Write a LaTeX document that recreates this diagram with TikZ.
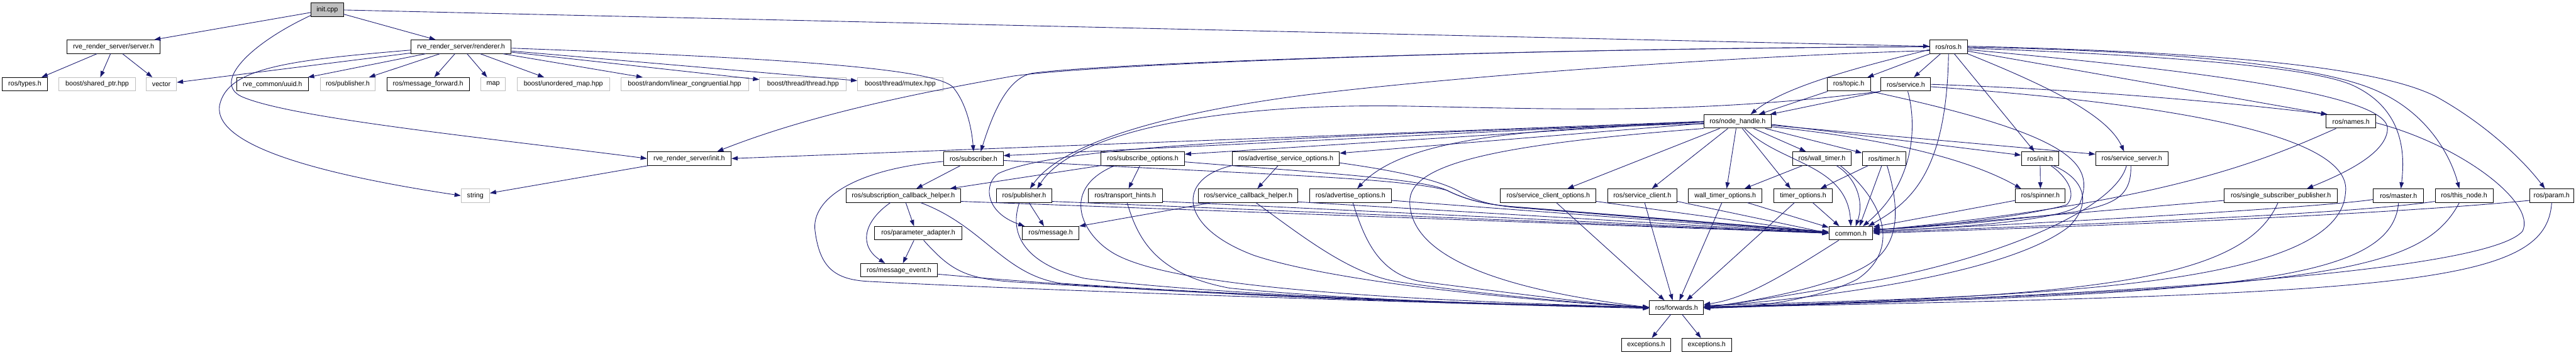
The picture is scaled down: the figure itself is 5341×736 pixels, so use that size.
\documentclass[tikz,border=0pt]{standalone}
\usepackage{fontspec}
\setmainfont{Liberation Sans}
\usetikzlibrary{arrows.meta}
\definecolor{edgec}{HTML}{191970}
\definecolor{grayc}{HTML}{BFBFBF}
\tikzset{
  nb/.style={draw=black, fill=white, line width=1.3pt, minimum height=28pt, inner sep=0pt, font=\fontsize{14}{16}\selectfont},
  ng/.style={nb, draw=grayc},
  e/.style={draw=edgec, line width=1.15pt, -{Triangle[length=13pt,width=9pt]}}
}
\begin{document}
\begin{tikzpicture}[x=1pt,y=-1pt]
\useasboundingbox (0,0) rectangle (5341,736);
% row 0
\node[nb, fill=grayc, minimum width=67pt] (init) at (678.5,20) {init.cpp};
% row 1
\node[nb, minimum width=193pt] (server) at (235.5,97) {rve\_render\_server/server.h};
\node[nb, minimum width=208pt] (renderer) at (956,97) {rve\_render\_server/renderer.h};
\node[nb, minimum width=78pt] (rosh) at (4040,97) {ros/ros.h};
% row 2
\node[nb, minimum width=93pt] (types) at (51.5,175) {ros/types.h};
\node[ng, minimum width=159pt] (sharedptr) at (201.5,175) {boost/shared\_ptr.hpp};
\node[ng, minimum width=63pt] (vector) at (334.5,175) {vector};
\node[nb, minimum width=148pt] (uuid) at (565,175) {rve\_common/uuid.h};
\node[ng, minimum width=114pt] (pubgray) at (721,175) {ros/publisher.h};
\node[nb, minimum width=171pt] (msgfwd) at (887.5,175) {ros/message\_forward.h};
\node[ng, minimum width=51pt] (map) at (1022.5,175) {map};
\node[ng, minimum width=192pt] (umap) at (1168,175) {boost/unordered\_map.hpp};
\node[ng, minimum width=265pt] (lcg) at (1419.5,175) {boost/random/linear\_congruential.hpp};
\node[ng, minimum width=180pt] (thread) at (1665,175) {boost/thread/thread.hpp};
\node[ng, minimum width=177pt] (mutex) at (1866.5,175) {boost/thread/mutex.hpp};
\node[nb, minimum width=90pt] (topic) at (3833,175) {ros/topic.h};
\node[nb, minimum width=103pt] (service) at (3951.5,175) {ros/service.h};
% row 3
\node[nb, minimum width=139pt] (nh) at (3602.5,252) {ros/node\_handle.h};
\node[nb, minimum width=103pt] (names) at (4874.5,252) {ros/names.h};
% row 4
\node[nb, minimum width=174pt] (rinit) at (1429,329) {rve\_render\_server/init.h};
\node[nb, minimum width=123pt] (sub) at (2018.5,329) {ros/subscriber.h};
\node[nb, minimum width=173pt] (subopt) at (2369.5,329) {ros/subscribe\_options.h};
\node[nb, minimum width=222pt] (advsrvopt) at (2666,329) {ros/advertise\_service\_options.h};
\node[nb, minimum width=121pt] (wtimer) at (3777.5,329) {ros/wall\_timer.h};
\node[nb, minimum width=91pt] (timer) at (3906.5,329) {ros/timer.h};
\node[nb, minimum width=78pt] (rosinit) at (4230,329) {ros/init.h};
\node[nb, minimum width=150pt] (srvsrv) at (4420,329) {ros/service\_server.h};
% row 5
\node[ng, minimum width=59pt] (string) at (985.5,406) {string};
\node[nb, minimum width=238pt] (sch) at (1873,406) {ros/subscription\_callback\_helper.h};
\node[nb, minimum width=115pt] (pub) at (2123.5,406) {ros/publisher.h};
\node[nb, minimum width=154pt] (th) at (2333,406) {ros/transport\_hints.h};
\node[nb, minimum width=206pt] (srvcb) at (2588,406) {ros/service\_callback\_helper.h};
\node[nb, minimum width=170pt] (advopt) at (2800,406) {ros/advertise\_options.h};
\node[nb, minimum width=198pt] (sco) at (3210,406) {ros/service\_client\_options.h};
\node[nb, minimum width=144pt] (sc) at (3405,406) {ros/service\_client.h};
\node[nb, minimum width=152pt] (wto) at (3577,406) {wall\_timer\_options.h};
\node[nb, minimum width=121pt] (to) at (3738.5,406) {timer\_options.h};
\node[nb, minimum width=103pt] (spinner) at (4230.5,406) {ros/spinner.h};
\node[nb, minimum width=234pt] (ssp) at (4729,406) {ros/single\_subscriber\_publisher.h};
\node[nb, minimum width=104pt] (master) at (4973,406) {ros/master.h};
\node[nb, minimum width=120pt] (thisnode) at (5109,406) {ros/this\_node.h};
\node[nb, minimum width=91pt] (param) at (5290.5,406) {ros/param.h};
% row 6
\node[nb, minimum width=182pt] (padapt) at (1904,484) {ros/parameter\_adapter.h};
\node[nb, minimum width=117pt] (msg) at (2178.5,484) {ros/message.h};
\node[nb, minimum width=91pt] (common) at (3837.5,484) {common.h};
% row 7
\node[nb, minimum width=160pt] (mevent) at (1864,561) {ros/message\_event.h};
% row 8
\node[nb, minimum width=112pt] (fwd) at (3476,638) {ros/forwards.h};
% row 9
\node[nb, minimum width=102pt] (exc1) at (3413,716) {exceptions.h};
\node[nb, minimum width=103pt] (exc2) at (3538.5,716) {exceptions.h};

% ---- edges: init.cpp
\draw[e] (init) -- (server);
\draw[e] (init) -- (renderer);
\draw[e] (init) -- (rosh);
\draw[e] ([yshift=-12pt]init.west) .. controls (520,90) and (440,170) .. (500,200) .. controls (600,245) and (1000,285) .. (rinit.west);
% server
\draw[e] (server) -- (types);
\draw[e] (server) -- (sharedptr);
\draw[e] (server) -- (vector);
% renderer
\draw[e] (renderer) -- (vector);
\draw[e] (renderer) -- (uuid);
\draw[e] (renderer) -- (pubgray);
\draw[e] (renderer) -- (msgfwd);
\draw[e] (renderer) -- (map);
\draw[e] (renderer) -- (umap);
\draw[e] (renderer) -- (lcg);
\draw[e] (renderer) -- (thread);
\draw[e] (renderer) -- (mutex);
\draw[e] ([yshift=-3pt]renderer.east) .. controls (1600,120) and (1930,140) .. (1975,180) .. controls (2005,215) and (2015,270) .. (sub.north);
\draw[e] ([yshift=-7pt]renderer.west) .. controls (600,125) and (470,140) .. (455,220) .. controls (445,300) and (650,360) .. (string.west);
% rve init
\draw[e] (rinit) -- (string);
% ros.h
\draw[e] (rosh.west) .. controls (3200,100) and (2300,130) .. (2100,158) .. controls (1950,185) and (1700,230) .. ([xshift=58pt]rinit.north);
\draw[e] (rosh.west) .. controls (3200,100) and (2300,130) .. (2140,152) .. controls (2090,162) and (2060,230) .. ([xshift=15pt]sub.north);
\draw[e] ([yshift=-8pt]rosh.west) .. controls (3500,120) and (2900,170) .. (2670,202) .. controls (2400,240) and (2200,300) .. ([xshift=12pt]pub.north);
\draw[e] ([yshift=-6pt]rosh.west) .. controls (3850,140) and (3700,180) .. ([xshift=27pt]nh.north);
\draw[e] (rosh) -- (topic);
\draw[e] (rosh) -- (service);
\draw[e] (rosh.south) .. controls (4036,360) and (3960,420) .. ([xshift=-10pt]common.north east);
\draw[e] (rosh) -- (rosinit);
\draw[e] (rosh.south east) .. controls (4250,180) and (4370,240) .. ([xshift=-16pt]srvsrv.north);
\draw[e] ([yshift=-9pt]rosh.east) -- ([xshift=3pt]names.north west);
\draw[e] ([yshift=-6pt]rosh.east) .. controls (4600,150) and (4960,200) .. (4950,270) .. controls (4945,320) and (4860,360) .. ([xshift=54pt]ssp.north);
\draw[e] ([yshift=-3pt]rosh.east) .. controls (4500,115) and (4800,140) .. (4880,178) .. controls (4990,230) and (4985,330) .. ([xshift=5pt]master.north);
\draw[e] ([yshift=-1pt]rosh.east) .. controls (4500,105) and (4800,135) .. (4920,185) .. controls (5030,230) and (5080,320) .. ([xshift=-10pt]thisnode.north);
\draw[e] ([yshift=1pt]rosh.east) .. controls (4700,110) and (4950,150) .. (5050,200) .. controls (5150,255) and (5230,330) .. ([xshift=-14pt]param.north);
% topic, service
\draw[e] ([xshift=2pt]topic.south west) -- ([xshift=44pt]nh.north);
\draw[e] (service.south west) -- ([xshift=-3pt]nh.north east);
\draw[e] (service.south west) .. controls (3500,240) and (3200,225) .. (2900,220) .. controls (2500,215) and (2220,280) .. ([xshift=27pt]pub.north);
\draw[e] ([xshift=4pt]service.south) .. controls (3975,260) and (3970,380) .. ([xshift=25pt]common.north);
\draw[e] (service.east) .. controls (4300,185) and (4600,210) .. ([xshift=3pt]names.north west);
\draw[e] ([yshift=-5pt]service.east) .. controls (4500,215) and (4880,280) .. (4863,400) .. controls (4850,600) and (4200,615) .. ([yshift=4pt]fwd.east);
\draw[e] (topic.south east) .. controls (4300,280) and (4345,340) .. (4312,423) .. controls (4290,460) and (4000,475) .. ([yshift=4pt]common.east);
% node_handle
\draw[e] (nh.west) -- (rinit.east);
\draw[e] (nh.west) -- ([yshift=6pt]sub.east);
\draw[e] (nh.west) -- ([yshift=9pt]subopt.east);
\draw[e] ([yshift=-4pt]nh.west) -- ([yshift=11pt]advsrvopt.east);
\draw[e] ([yshift=-2pt]nh.west) .. controls (2700,285) and (2200,300) .. (2070,360) .. controls (2040,380) and (2040,440) .. ([xshift=5pt]msg.north west);
\draw[e] ([yshift=-5pt]nh.west) .. controls (3100,265) and (2900,300) .. ([xshift=14pt]advopt.north);
\draw[e] (nh.south west) .. controls (3100,300) and (2920,340) .. (2923,420) .. controls (2925,530) and (3100,600) .. (fwd.west);
\draw[e] ([xshift=-37pt]nh.south) -- ([xshift=40pt]sco.north);
\draw[e] ([xshift=-20pt]nh.south) -- ([xshift=20pt]sc.north);
\draw[e] ([xshift=-3pt]nh.south) -- ([xshift=3pt]wto.north);
\draw[e] ([xshift=10pt]nh.south) -- ([xshift=-26pt]to.north);
\draw[e] ([xshift=15pt]nh.south) .. controls (3690,340) and (3830,340) .. (common.north);
\draw[e] (nh) -- (wtimer);
\draw[e] (nh) -- (timer);
\draw[e] ([yshift=-6pt]nh.east) -- ([yshift=7pt]rosinit.west);
\draw[e] ([yshift=-8pt]nh.east) -- ([yshift=9pt]srvsrv.west);
\draw[e] ([yshift=-11pt]nh.east) .. controls (3950,292) and (4100,340) .. ([xshift=-40pt]spinner.north);
% wall_timer, timer
\draw[e] ([xshift=-40pt]wtimer.south) -- ([xshift=40pt]wto.north);
\draw[e] ([xshift=30pt]wtimer.south) .. controls (3850,370) and (3865,420) .. ([xshift=10pt]common.north);
\draw[e] ([xshift=38pt]wtimer.south) .. controls (3910,420) and (3940,520) .. (3850,580) .. controls (3750,630) and (3600,640) .. (fwd.east);
\draw[e] ([xshift=-33pt]timer.south) -- ([xshift=36pt]to.north);
\draw[e] ([xshift=-5pt]timer.south) -- ([xshift=18pt]common.north);
\draw[e] ([xshift=6pt]timer.south) .. controls (3935,420) and (3945,500) .. (3880,545) .. controls (3800,600) and (3600,630) .. (fwd.east);
% ros/init.h
\draw[e] (rosinit.south) -- (spinner.north);
\draw[e] ([xshift=22pt]rosinit.south) .. controls (4290,370) and (4305,405) .. (4285,425) .. controls (4200,450) and (3950,478) .. ([yshift=10pt]common.east);
\draw[e] ([xshift=27pt]rosinit.south) .. controls (4320,370) and (4340,420) .. (4290,470) .. controls (4150,580) and (3700,625) .. ([yshift=2pt]fwd.east);
% service_server
\draw[e] ([xshift=-11pt]srvsrv.south) .. controls (4390,420) and (4200,520) .. (3900,580) .. controls (3700,615) and (3600,630) .. (fwd.east);
\draw[e] ([xshift=-2pt]srvsrv.south) .. controls (4420,410) and (4380,425) .. (4300,440) .. controls (4150,460) and (3950,475) .. ([yshift=8pt]common.east);
% spinner
\draw[e] ([yshift=-10pt]spinner.west) -- ([yshift=13pt]common.east);
% names
\draw[e] ([xshift=-31pt]names.south) .. controls (4700,330) and (4500,420) .. ([yshift=6pt]common.east);
\draw[e] ([yshift=-3pt]names.east) .. controls (5100,300) and (5260,420) .. (5230,480) .. controls (5150,570) and (4300,615) .. ([yshift=-2pt]fwd.east);
% right row 5
\draw[e] ([yshift=-10pt]ssp.west) -- ([yshift=6pt]common.east);
\draw[e] ([xshift=-6pt]ssp.south) .. controls (4650,590) and (4300,615) .. ([yshift=1pt]fwd.east);
\draw[e] ([yshift=-8pt]master.west) .. controls (4850,425) and (4500,450) .. ([yshift=4pt]common.east);
\draw[e] (master.south) .. controls (4960,590) and (4600,610) .. (fwd.east);
\draw[e] ([yshift=-12pt]thisnode.west) .. controls (4900,440) and (4500,460) .. ([yshift=2pt]common.east);
\draw[e] ([xshift=-10pt]thisnode.south) .. controls (5020,570) and (4800,600) .. (fwd.east);
\draw[e] ([yshift=-10pt]param.west) .. controls (5000,440) and (4500,465) .. (common.east);
\draw[e] (param.south) .. controls (5280,590) and (5000,610) .. (fwd.east);
% common
\draw[e] ([xshift=-25pt]common.south) .. controls (3700,570) and (3620,620) .. ([yshift=6pt]fwd.east);
% subscriber
\draw[e] ([xshift=-27pt]sub.south) -- ([xshift=27pt]sch.north);
\draw[e] ([yshift=-6pt]sub.west) .. controls (1780,350) and (1680,410) .. (1690,480) .. controls (1700,555) and (1730,580) .. (1800,584) .. controls (2200,605) and (3000,630) .. ([yshift=-2pt]fwd.west);
\draw[e] ([yshift=-4pt]sub.east) .. controls (2600,362) and (2900,368) .. (3000,395) .. controls (3040,415) and (3080,425) .. (3150,430) -- ([yshift=2pt]common.west);
% subscribe_options
\draw[e] (subopt.south west) -- ([xshift=-23pt]sch.north east);
\draw[e] ([xshift=-6pt]subopt.south) -- ([xshift=7pt]th.north);
\draw[e] ([xshift=-58pt]subopt.south) .. controls (2200,390) and (2240,480) .. (2300,520) .. controls (2400,590) and (2800,620) .. (fwd.west);
\draw[e] ([yshift=-7pt]subopt.east) .. controls (2700,356) and (2950,370) .. (3000,395) .. controls (3040,415) and (3080,425) .. (3150,430) -- ([yshift=3pt]common.west);
% advertise_service_options
\draw[e] ([xshift=-16pt]advsrvopt.south) -- ([xshift=19pt]srvcb.north);
\draw[e] (advsrvopt.south west) .. controls (2440,370) and (2440,470) .. (2600,530) .. controls (2750,580) and (3100,620) .. (fwd.west);
\draw[e] ([yshift=-9pt]advsrvopt.east) .. controls (2900,355) and (2990,375) .. (3030,400) .. controls (3060,418) and (3100,428) .. (3160,432) -- ([yshift=1pt]common.west);
% subscription_callback_helper
\draw[e] ([xshift=5pt]sch.south) -- ([xshift=-9pt]padapt.north);
\draw[e] ([xshift=-27pt]sch.south) .. controls (1790,460) and (1780,510) .. ([xshift=-29pt]mevent.north);
\draw[e] ([xshift=36pt]sch.south) .. controls (2040,470) and (2080,570) .. (2200,588) .. controls (2600,615) and (3100,632) .. (fwd.west);
\draw[e] ([yshift=-12pt]sch.east) -- (common.west);
% parameter_adapter, message_event
\draw[e] ([xshift=-9pt]padapt.south) -- ([xshift=8pt]mevent.north);
\draw[e] ([xshift=11pt]padapt.south) .. controls (1970,560) and (2000,578) .. (2100,585) .. controls (2500,610) and (3000,630) .. (fwd.west);
\draw[e] ([yshift=-8pt]mevent.east) .. controls (2400,610) and (3000,632) .. (fwd.west);
% publisher
\draw[e] ([xshift=10pt]pub.south) -- ([xshift=-14pt]msg.north);
\draw[e] ([xshift=-10pt]pub.south) .. controls (2090,490) and (2130,550) .. (2250,578) .. controls (2500,610) and (3000,630) .. (fwd.west);
\draw[e] ([yshift=-12pt]pub.east) -- (common.west);
% transport_hints
\draw[e] ([xshift=4pt]th.south) .. controls (2360,500) and (2400,570) .. (2550,598) .. controls (2800,622) and (3100,632) .. (fwd.west);
\draw[e] ([yshift=-12pt]th.east) -- (common.west);
% service_callback_helper
\draw[e] ([xshift=-76pt]srvcb.south) -- (msg.north east);
\draw[e] ([xshift=16pt]srvcb.south) .. controls (2700,490) and (2800,570) .. (2900,585) .. controls (3100,615) and (3300,630) .. (fwd.west);
\draw[e] ([yshift=-13pt]srvcb.east) -- (common.west);
% advertise_options
\draw[e] ([xshift=5pt]advopt.south) .. controls (2830,500) and (2860,570) .. (2950,585) .. controls (3150,610) and (3300,630) .. (fwd.west);
\draw[e] ([yshift=-10pt]advopt.east) -- (common.west);
% service_client_options, service_client
\draw[e] ([xshift=17pt]sco.south) -- ([xshift=-25pt]fwd.north);
\draw[e] ([yshift=-12pt]sco.east) -- (common.west);
\draw[e] ([xshift=5pt]sc.south) -- ([xshift=-8pt]fwd.north);
\draw[e] ([yshift=-12pt]sc.east) -- (common.west);
% wall_timer_options, timer_options
\draw[e] ([xshift=-7pt]wto.south) -- ([xshift=6pt]fwd.north);
\draw[e] ([xshift=46pt]wto.south) -- ([yshift=12pt]common.west);
\draw[e] ([xshift=-18pt]to.south) -- ([xshift=21pt]fwd.north);
\draw[e] ([xshift=20pt]to.south) -- ([xshift=-24pt]common.north);
% forwards
\draw[e] (fwd) -- (exc1);
\draw[e] (fwd) -- (exc2);
\end{tikzpicture}
\end{document}
